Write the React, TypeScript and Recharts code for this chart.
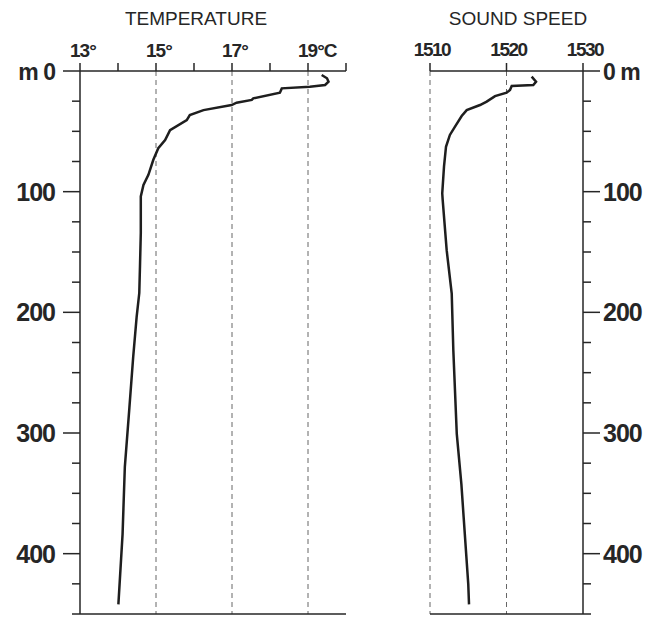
import React from "react";
import { LineChart, Line, XAxis, YAxis, ReferenceLine } from "recharts";

// temperature profile (depth in m, temperature in °C)
const tempDepths = [3.3, 6, 8.9, 11.6, 13, 14.4, 18, 22.7, 24, 26.3, 28.2, 32.4, 36.5, 40.7, 49, 57.2, 64, 73.6, 86, 94.4, 104, 121, 134, 160, 184, 204, 237, 279, 328, 384, 442];
const tempValues = [19.36, 19.5, 19.54, 19.45, 19.05, 18.31, 18.26, 17.56, 17.52, 17.12, 16.99, 16.25, 15.89, 15.81, 15.37, 15.24, 15.06, 14.93, 14.8, 14.67, 14.6, 14.6, 14.6, 14.58, 14.56, 14.49, 14.4, 14.3, 14.18, 14.12, 14.01];

// sound speed profile (depth in m, speed in m/s)
const speedDepths = [4.7, 8.9, 11.6, 12.4, 15.7, 18, 20.8, 25.4, 28.2, 32.4, 37.3, 46.1, 53, 62.8, 79.3, 101.4, 107, 148.5, 184.5, 231.5, 300.7, 342.2, 369.9, 425, 442];
const speedValues = [1523.29, 1523.86, 1523.5, 1520.68, 1520.46, 1520.02, 1518.5, 1517.41, 1516.54, 1514.8, 1514.14, 1513.27, 1512.6, 1512.09, 1511.83, 1511.6, 1511.66, 1512.18, 1512.84, 1513.05, 1513.5, 1514.1, 1514.4, 1515.0, 1515.1];

const tempTicks = [13, 14, 15, 16, 17, 18, 19, 20];
const tempLabels = [13, 15, 17, 19];
const tempGrid = [15, 17, 19];
const speedTicks = [1510, 1520, 1530];
const speedGrid = [1510, 1520];
const depthTicks = [0, 25, 50, 75, 100, 125, 150, 175, 200, 225, 250, 275, 300, 325, 350, 375, 400, 425, 450];

const tempRows = tempDepths.map((depth, i) => ({ depth, temp: tempValues[i] }));
const speedRows = speedDepths.map((depth, i) => ({ depth, speed: speedValues[i] }));

const INK = "#262626";
const FONT = "'Liberation Sans', Arial, sans-serif";
const H = 617;

const TopTempTick = (props: any) => {
  const { x, payload } = props;
  const v = payload.value;
  if (!tempLabels.includes(v)) return null;
  return (
    <text x={x - 10} y={57} textAnchor="start" fontFamily={FONT} fontSize={19} fontWeight={700} letterSpacing={-1} fill={INK}>
      {v}°{v === 19 ? "C" : ""}
    </text>
  );
};

const TopSpeedTick = (props: any) => {
  const { x, payload } = props;
  return (
    <text x={x + 2} y={56} textAnchor="middle" fontFamily={FONT} fontSize={19} fontWeight={700} letterSpacing={-1.5} fill={INK}>
      {payload.value}
    </text>
  );
};

// axisX is in the chart's own coordinates
const makeDepthTick = (axisX: number, side: "left" | "right") => (props: any) => {
  const { y, payload } = props;
  const v = payload.value;
  const major = v % 100 === 0;
  const len = major ? 17 : 8;
  const dir = side === "left" ? -1 : 1;
  const labelX = side === "left" ? axisX - 25 : axisX + 20;
  return (
    <g>
      <line x1={axisX} x2={axisX + dir * len} y1={y} y2={y} stroke={INK} strokeWidth={1.5} />
      {major && (
        <text
          x={labelX}
          y={y + 9}
          textAnchor={side === "left" ? "end" : "start"}
          fontFamily={FONT}
          fontSize={v === 0 ? 23 : 25}
          fontWeight={700}
          letterSpacing={-1}
          fill={INK}
        >
          {v === 0 ? (side === "left" ? "m 0" : "0 m") : v}
        </text>
      )}
    </g>
  );
};

const LeftDepthTick = makeDepthTick(80, "left");
const RightDepthTick = makeDepthTick(203, "right");

export default function App() {
  return (
    <div style={{ position: "absolute", left: 0, top: 0, width: 662, height: H, background: "#fff" }}>
      <svg width={662} height={40} style={{ position: "absolute", left: 0, top: 0 }}>
        <text x={196} y={25} textAnchor="middle" fontFamily={FONT} fontSize={19} fill={INK}>TEMPERATURE</text>
        <text x={518} y={25} textAnchor="middle" fontFamily={FONT} fontSize={19} fill={INK}>SOUND SPEED</text>
      </svg>

      <div style={{ position: "absolute", left: 0, top: 0 }}>
        <LineChart layout="vertical" width={380} height={H} data={tempRows} margin={{ top: 0, right: 34, bottom: 0, left: 0 }}>
          <XAxis
            type="number"
            dataKey="temp"
            orientation="top"
            height={71}
            domain={[13, 20]}
            ticks={tempTicks}
            interval={0}
            allowDataOverflow
            tickSize={8}
            tickLine={{ stroke: INK, strokeWidth: 1.5 }}
            axisLine={{ stroke: INK, strokeWidth: 1.5 }}
            tick={<TopTempTick />}
          />
          <XAxis xAxisId="bottom" type="number" orientation="bottom" height={3} domain={[13, 20]} tick={false} tickLine={false} axisLine={{ stroke: INK, strokeWidth: 1.5 }} />
          <YAxis
            type="number"
            dataKey="depth"
            width={80}
            domain={[0, 450]}
            ticks={depthTicks}
            interval={0}
            allowDataOverflow
            tickLine={false}
            axisLine={{ stroke: INK, strokeWidth: 1.5 }}
            tick={<LeftDepthTick />}
          />
          {tempGrid.map((t) => (
            <ReferenceLine key={t} x={t} stroke="#666" strokeWidth={1} strokeDasharray="5 4" />
          ))}
          <Line type="linear" dataKey="temp" stroke="#1e1e1e" strokeWidth={2.5} dot={false} isAnimationActive={false} />
        </LineChart>
      </div>

      <div style={{ position: "absolute", left: 380, top: 0 }}>
        <LineChart layout="vertical" width={282} height={H} data={speedRows} margin={{ top: 0, right: 0, bottom: 0, left: 50 }}>
          <XAxis
            type="number"
            dataKey="speed"
            orientation="top"
            height={71}
            domain={[1510, 1530]}
            ticks={speedTicks}
            interval={0}
            allowDataOverflow
            tickSize={8}
            tickLine={{ stroke: INK, strokeWidth: 1.5 }}
            axisLine={{ stroke: INK, strokeWidth: 1.5 }}
            tick={<TopSpeedTick />}
          />
          <XAxis xAxisId="bottom" type="number" orientation="bottom" height={3} domain={[1510, 1530]} tick={false} tickLine={false} axisLine={{ stroke: INK, strokeWidth: 1.5 }} />
          <YAxis
            type="number"
            dataKey="depth"
            orientation="right"
            width={79}
            domain={[0, 450]}
            ticks={depthTicks}
            interval={0}
            allowDataOverflow
            tickLine={false}
            axisLine={{ stroke: INK, strokeWidth: 1.5 }}
            tick={<RightDepthTick />}
          />
          {speedGrid.map((s) => (
            <ReferenceLine key={s} x={s} stroke="#666" strokeWidth={1} strokeDasharray="5 4" />
          ))}
          <Line type="linear" dataKey="speed" stroke="#1e1e1e" strokeWidth={2.5} dot={false} isAnimationActive={false} />
        </LineChart>
      </div>
    </div>
  );
}
